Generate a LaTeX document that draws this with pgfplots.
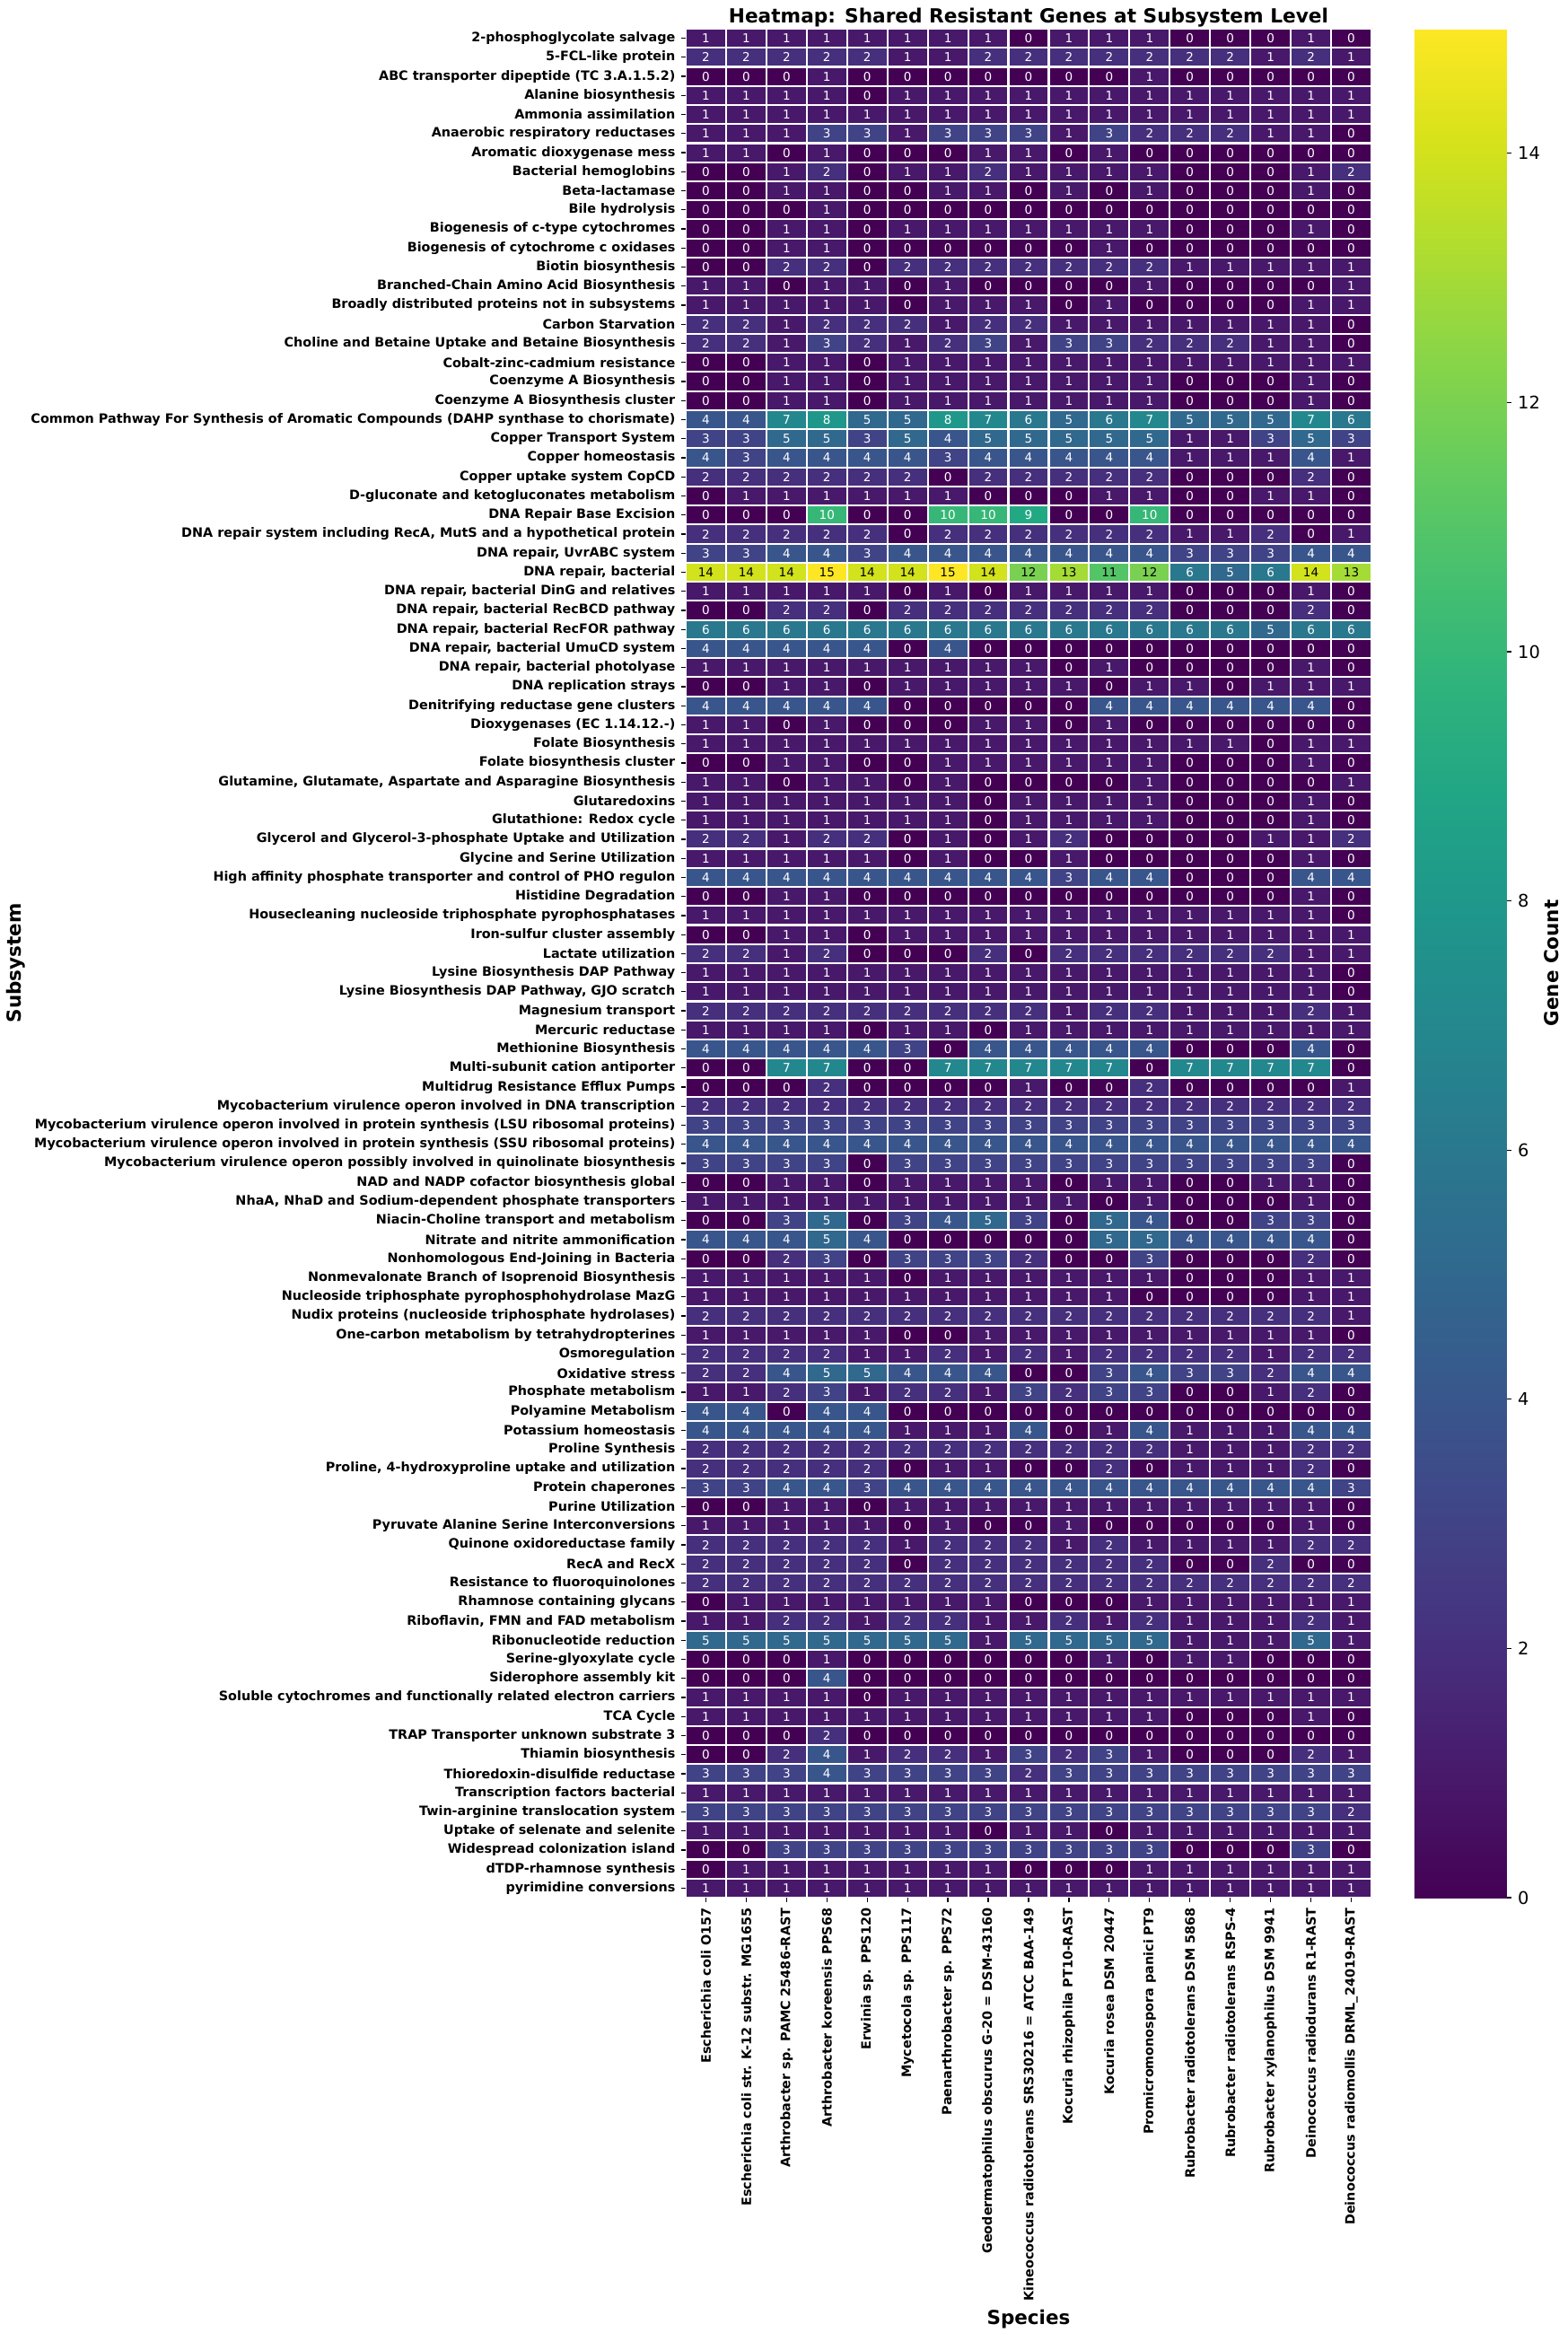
\documentclass[border=0pt]{standalone}
\usepackage{fontspec}
\setmainfont{DejaVu Sans}
\usepackage{pgfplots}
\usepackage{pgfplotstable}
\pgfplotsset{compat=1.18}
\usepgfplotslibrary{colormaps}
\pgfplotsset{/pgf/number format/assume math mode=true}

% values, row by row (subsystems top to bottom), 17 species per row
\pgfplotstableread[row sep=\\]{
v\\
1\\1\\1\\1\\1\\1\\1\\1\\0\\1\\1\\1\\0\\0\\0\\1\\0\\
2\\2\\2\\2\\2\\1\\1\\2\\2\\2\\2\\2\\2\\2\\1\\2\\1\\
0\\0\\0\\1\\0\\0\\0\\0\\0\\0\\0\\1\\0\\0\\0\\0\\0\\
1\\1\\1\\1\\0\\1\\1\\1\\1\\1\\1\\1\\1\\1\\1\\1\\1\\
1\\1\\1\\1\\1\\1\\1\\1\\1\\1\\1\\1\\1\\1\\1\\1\\1\\
1\\1\\1\\3\\3\\1\\3\\3\\3\\1\\3\\2\\2\\2\\1\\1\\0\\
1\\1\\0\\1\\0\\0\\0\\1\\1\\0\\1\\0\\0\\0\\0\\0\\0\\
0\\0\\1\\2\\0\\1\\1\\2\\1\\1\\1\\1\\0\\0\\0\\1\\2\\
0\\0\\1\\1\\0\\0\\1\\1\\0\\1\\0\\1\\0\\0\\0\\1\\0\\
0\\0\\0\\1\\0\\0\\0\\0\\0\\0\\0\\0\\0\\0\\0\\0\\0\\
0\\0\\1\\1\\0\\1\\1\\1\\1\\1\\1\\1\\0\\0\\0\\1\\0\\
0\\0\\1\\1\\0\\0\\0\\0\\0\\0\\1\\0\\0\\0\\0\\0\\0\\
0\\0\\2\\2\\0\\2\\2\\2\\2\\2\\2\\2\\1\\1\\1\\1\\1\\
1\\1\\0\\1\\1\\0\\1\\0\\0\\0\\0\\1\\0\\0\\0\\0\\1\\
1\\1\\1\\1\\1\\0\\1\\1\\1\\0\\1\\0\\0\\0\\0\\1\\1\\
2\\2\\1\\2\\2\\2\\1\\2\\2\\1\\1\\1\\1\\1\\1\\1\\0\\
2\\2\\1\\3\\2\\1\\2\\3\\1\\3\\3\\2\\2\\2\\1\\1\\0\\
0\\0\\1\\1\\0\\1\\1\\1\\1\\1\\1\\1\\1\\1\\1\\1\\1\\
0\\0\\1\\1\\0\\1\\1\\1\\1\\1\\1\\1\\0\\0\\0\\1\\0\\
0\\0\\1\\1\\0\\1\\1\\1\\1\\1\\1\\1\\0\\0\\0\\1\\0\\
4\\4\\7\\8\\5\\5\\8\\7\\6\\5\\6\\7\\5\\5\\5\\7\\6\\
3\\3\\5\\5\\3\\5\\4\\5\\5\\5\\5\\5\\1\\1\\3\\5\\3\\
4\\3\\4\\4\\4\\4\\3\\4\\4\\4\\4\\4\\1\\1\\1\\4\\1\\
2\\2\\2\\2\\2\\2\\0\\2\\2\\2\\2\\2\\0\\0\\0\\2\\0\\
0\\1\\1\\1\\1\\1\\1\\0\\0\\0\\1\\1\\0\\0\\1\\1\\0\\
0\\0\\0\\10\\0\\0\\10\\10\\9\\0\\0\\10\\0\\0\\0\\0\\0\\
2\\2\\2\\2\\2\\0\\2\\2\\2\\2\\2\\2\\1\\1\\2\\0\\1\\
3\\3\\4\\4\\3\\4\\4\\4\\4\\4\\4\\4\\3\\3\\3\\4\\4\\
14\\14\\14\\15\\14\\14\\15\\14\\12\\13\\11\\12\\6\\5\\6\\14\\13\\
1\\1\\1\\1\\1\\0\\1\\0\\1\\1\\1\\1\\0\\0\\0\\1\\0\\
0\\0\\2\\2\\0\\2\\2\\2\\2\\2\\2\\2\\0\\0\\0\\2\\0\\
6\\6\\6\\6\\6\\6\\6\\6\\6\\6\\6\\6\\6\\6\\5\\6\\6\\
4\\4\\4\\4\\4\\0\\4\\0\\0\\0\\0\\0\\0\\0\\0\\0\\0\\
1\\1\\1\\1\\1\\1\\1\\1\\1\\0\\1\\0\\0\\0\\0\\1\\0\\
0\\0\\1\\1\\0\\1\\1\\1\\1\\1\\0\\1\\1\\0\\1\\1\\1\\
4\\4\\4\\4\\4\\0\\0\\0\\0\\0\\4\\4\\4\\4\\4\\4\\0\\
1\\1\\0\\1\\0\\0\\0\\1\\1\\0\\1\\0\\0\\0\\0\\0\\0\\
1\\1\\1\\1\\1\\1\\1\\1\\1\\1\\1\\1\\1\\1\\0\\1\\1\\
0\\0\\1\\1\\0\\0\\1\\1\\1\\1\\1\\1\\0\\0\\0\\1\\0\\
1\\1\\0\\1\\1\\0\\1\\0\\0\\0\\0\\1\\0\\0\\0\\0\\1\\
1\\1\\1\\1\\1\\1\\1\\0\\1\\1\\1\\1\\0\\0\\0\\1\\0\\
1\\1\\1\\1\\1\\1\\1\\0\\1\\1\\1\\1\\0\\0\\0\\1\\0\\
2\\2\\1\\2\\2\\0\\1\\0\\1\\2\\0\\0\\0\\0\\1\\1\\2\\
1\\1\\1\\1\\1\\0\\1\\0\\0\\1\\0\\0\\0\\0\\0\\1\\0\\
4\\4\\4\\4\\4\\4\\4\\4\\4\\3\\4\\4\\0\\0\\0\\4\\4\\
0\\0\\1\\1\\0\\0\\0\\0\\0\\0\\0\\0\\0\\0\\0\\1\\0\\
1\\1\\1\\1\\1\\1\\1\\1\\1\\1\\1\\1\\1\\1\\1\\1\\0\\
0\\0\\1\\1\\0\\1\\1\\1\\1\\1\\1\\1\\1\\1\\1\\1\\1\\
2\\2\\1\\2\\0\\0\\0\\2\\0\\2\\2\\2\\2\\2\\2\\1\\1\\
1\\1\\1\\1\\1\\1\\1\\1\\1\\1\\1\\1\\1\\1\\1\\1\\0\\
1\\1\\1\\1\\1\\1\\1\\1\\1\\1\\1\\1\\1\\1\\1\\1\\0\\
2\\2\\2\\2\\2\\2\\2\\2\\2\\1\\2\\2\\1\\1\\1\\2\\1\\
1\\1\\1\\1\\0\\1\\1\\0\\1\\1\\1\\1\\1\\1\\1\\1\\1\\
4\\4\\4\\4\\4\\3\\0\\4\\4\\4\\4\\4\\0\\0\\0\\4\\0\\
0\\0\\7\\7\\0\\0\\7\\7\\7\\7\\7\\0\\7\\7\\7\\7\\0\\
0\\0\\0\\2\\0\\0\\0\\0\\1\\0\\0\\2\\0\\0\\0\\0\\1\\
2\\2\\2\\2\\2\\2\\2\\2\\2\\2\\2\\2\\2\\2\\2\\2\\2\\
3\\3\\3\\3\\3\\3\\3\\3\\3\\3\\3\\3\\3\\3\\3\\3\\3\\
4\\4\\4\\4\\4\\4\\4\\4\\4\\4\\4\\4\\4\\4\\4\\4\\4\\
3\\3\\3\\3\\0\\3\\3\\3\\3\\3\\3\\3\\3\\3\\3\\3\\0\\
0\\0\\1\\1\\0\\1\\1\\1\\1\\0\\1\\1\\0\\0\\1\\1\\0\\
1\\1\\1\\1\\1\\1\\1\\1\\1\\1\\0\\1\\0\\0\\0\\1\\0\\
0\\0\\3\\5\\0\\3\\4\\5\\3\\0\\5\\4\\0\\0\\3\\3\\0\\
4\\4\\4\\5\\4\\0\\0\\0\\0\\0\\5\\5\\4\\4\\4\\4\\0\\
0\\0\\2\\3\\0\\3\\3\\3\\2\\0\\0\\3\\0\\0\\0\\2\\0\\
1\\1\\1\\1\\1\\0\\1\\1\\1\\1\\1\\1\\0\\0\\0\\1\\1\\
1\\1\\1\\1\\1\\1\\1\\1\\1\\1\\1\\0\\0\\0\\0\\1\\1\\
2\\2\\2\\2\\2\\2\\2\\2\\2\\2\\2\\2\\2\\2\\2\\2\\1\\
1\\1\\1\\1\\1\\0\\0\\1\\1\\1\\1\\1\\1\\1\\1\\1\\0\\
2\\2\\2\\2\\1\\1\\2\\1\\2\\1\\2\\2\\2\\2\\1\\2\\2\\
2\\2\\4\\5\\5\\4\\4\\4\\0\\0\\3\\4\\3\\3\\2\\4\\4\\
1\\1\\2\\3\\1\\2\\2\\1\\3\\2\\3\\3\\0\\0\\1\\2\\0\\
4\\4\\0\\4\\4\\0\\0\\0\\0\\0\\0\\0\\0\\0\\0\\0\\0\\
4\\4\\4\\4\\4\\1\\1\\1\\4\\0\\1\\4\\1\\1\\1\\4\\4\\
2\\2\\2\\2\\2\\2\\2\\2\\2\\2\\2\\2\\1\\1\\1\\2\\2\\
2\\2\\2\\2\\2\\0\\1\\1\\0\\0\\2\\0\\1\\1\\1\\2\\0\\
3\\3\\4\\4\\3\\4\\4\\4\\4\\4\\4\\4\\4\\4\\4\\4\\3\\
0\\0\\1\\1\\0\\1\\1\\1\\1\\1\\1\\1\\1\\1\\1\\1\\0\\
1\\1\\1\\1\\1\\0\\1\\0\\0\\1\\0\\0\\0\\0\\0\\1\\0\\
2\\2\\2\\2\\2\\1\\2\\2\\2\\1\\2\\1\\1\\1\\1\\2\\2\\
2\\2\\2\\2\\2\\0\\2\\2\\2\\2\\2\\2\\0\\0\\2\\0\\0\\
2\\2\\2\\2\\2\\2\\2\\2\\2\\2\\2\\2\\2\\2\\2\\2\\2\\
0\\1\\1\\1\\1\\1\\1\\1\\0\\0\\0\\1\\1\\1\\1\\1\\1\\
1\\1\\2\\2\\1\\2\\2\\1\\1\\2\\1\\2\\1\\1\\1\\2\\1\\
5\\5\\5\\5\\5\\5\\5\\1\\5\\5\\5\\5\\1\\1\\1\\5\\1\\
0\\0\\0\\1\\0\\0\\0\\0\\0\\0\\1\\0\\1\\1\\0\\0\\0\\
0\\0\\0\\4\\0\\0\\0\\0\\0\\0\\0\\0\\0\\0\\0\\0\\0\\
1\\1\\1\\1\\0\\1\\1\\1\\1\\1\\1\\1\\1\\1\\1\\1\\1\\
1\\1\\1\\1\\1\\1\\1\\1\\1\\1\\1\\1\\0\\0\\0\\1\\0\\
0\\0\\0\\2\\0\\0\\0\\0\\0\\0\\0\\0\\0\\0\\0\\0\\0\\
0\\0\\2\\4\\1\\2\\2\\1\\3\\2\\3\\1\\0\\0\\0\\2\\1\\
3\\3\\3\\4\\3\\3\\3\\3\\2\\3\\3\\3\\3\\3\\3\\3\\3\\
1\\1\\1\\1\\1\\1\\1\\1\\1\\1\\1\\1\\1\\1\\1\\1\\1\\
3\\3\\3\\3\\3\\3\\3\\3\\3\\3\\3\\3\\3\\3\\3\\3\\2\\
1\\1\\1\\1\\1\\1\\1\\0\\1\\1\\0\\1\\1\\1\\1\\1\\1\\
0\\0\\3\\3\\3\\3\\3\\3\\3\\3\\3\\3\\0\\0\\0\\3\\0\\
0\\1\\1\\1\\1\\1\\1\\1\\0\\0\\0\\1\\1\\1\\1\\1\\1\\
1\\1\\1\\1\\1\\1\\1\\1\\1\\1\\1\\1\\1\\1\\1\\1\\1\\
}\heat

\begin{document}
\begin{tikzpicture}
\useasboundingbox (-366.72pt,-232.8pt) rectangle (471.36pt,1014.72pt);
\begin{axis}[
  scale only axis,
  width=366.72pt, height=999.36pt,
  xmin=-0.5, xmax=16.5, ymin=-0.5, ymax=97.5,
  enlargelimits=false,
  clip=false,
  axis on top,
  colormap name=viridis,
  point meta min=0, point meta max=15,
  axis line style={draw=none},
  tick pos=left,
  tick align=outside,
  major tick length=2.4pt,
  tick style={black, line width=0.6pt},
  xtick={0,...,16}, ytick={0,...,97},
  minor xtick={-0.5,0.5,...,16.5},
  minor ytick={-0.5,0.5,...,97.5},
  minor tick length=0pt,
  xminorgrids, yminorgrids,
  minor grid style={white, line width=1pt},
  xticklabels={{Escherichia coli O157},{Escherichia coli str. K-12 substr. MG1655},{Arthrobacter sp. PAMC 25486-RAST},{Arthrobacter koreensis PPS68},{Erwinia sp. PPS120},{Mycetocola sp. PPS117},{Paenarthrobacter sp. PPS72},{Geodermatophilus obscurus G-20 = DSM-43160},{Kineococcus radiotolerans SRS30216 = ATCC BAA-149},{Kocuria rhizophila PT10-RAST},{Kocuria rosea DSM 20447},{Promicromonospora panici PT9},{Rubrobacter radiotolerans DSM 5868},{Rubrobacter radiotolerans RSPS-4},{Rubrobacter xylanophilus DSM 9941},{Deinococcus radiodurans R1-RAST},{Deinococcus radiomollis DRML\_24019-RAST}},
  yticklabels={{pyrimidine conversions},{dTDP-rhamnose synthesis},{Widespread colonization island},{Uptake of selenate and selenite},{Twin-arginine translocation system},{Transcription factors bacterial},{Thioredoxin-disulfide reductase},{Thiamin biosynthesis},{TRAP Transporter unknown substrate 3},{TCA Cycle},{Soluble cytochromes and functionally related electron carriers},{Siderophore assembly kit},{Serine-glyoxylate cycle},{Ribonucleotide reduction},{Riboflavin, FMN and FAD metabolism},{Rhamnose containing glycans},{Resistance to fluoroquinolones},{RecA and RecX},{Quinone oxidoreductase family},{Pyruvate Alanine Serine Interconversions},{Purine Utilization},{Protein chaperones},{Proline, 4-hydroxyproline uptake and utilization},{Proline Synthesis},{Potassium homeostasis},{Polyamine Metabolism},{Phosphate metabolism},{Oxidative stress},{Osmoregulation},{One-carbon metabolism by tetrahydropterines},{Nudix proteins (nucleoside triphosphate hydrolases)},{Nucleoside triphosphate pyrophosphohydrolase MazG},{Nonmevalonate Branch of Isoprenoid Biosynthesis},{Nonhomologous End-Joining in Bacteria},{Nitrate and nitrite ammonification},{Niacin-Choline transport and metabolism},{NhaA, NhaD and Sodium-dependent phosphate transporters},{NAD and NADP cofactor biosynthesis global},{Mycobacterium virulence operon possibly involved in quinolinate biosynthesis},{Mycobacterium virulence operon involved in protein synthesis (SSU ribosomal proteins)},{Mycobacterium virulence operon involved in protein synthesis (LSU ribosomal proteins)},{Mycobacterium virulence operon involved in DNA transcription},{Multidrug Resistance Efflux Pumps},{Multi-subunit cation antiporter},{Methionine Biosynthesis},{Mercuric reductase},{Magnesium transport},{Lysine Biosynthesis DAP Pathway, GJO scratch},{Lysine Biosynthesis DAP Pathway},{Lactate utilization},{Iron-sulfur cluster assembly},{Housecleaning nucleoside triphosphate pyrophosphatases},{Histidine Degradation},{High affinity phosphate transporter and control of PHO regulon},{Glycine and Serine Utilization},{Glycerol and Glycerol-3-phosphate Uptake and Utilization},{Glutathione: Redox cycle},{Glutaredoxins},{Glutamine, Glutamate, Aspartate and Asparagine Biosynthesis},{Folate biosynthesis cluster},{Folate Biosynthesis},{Dioxygenases (EC 1.14.12.-)},{Denitrifying reductase gene clusters},{DNA replication strays},{DNA repair, bacterial photolyase},{DNA repair, bacterial UmuCD system},{DNA repair, bacterial RecFOR pathway},{DNA repair, bacterial RecBCD pathway},{DNA repair, bacterial DinG and relatives},{DNA repair, bacterial},{DNA repair, UvrABC system},{DNA repair system including RecA, MutS and a hypothetical protein},{DNA Repair Base Excision},{D-gluconate and ketogluconates metabolism},{Copper uptake system CopCD},{Copper homeostasis},{Copper Transport System},{Common Pathway For Synthesis of Aromatic Compounds (DAHP synthase to chorismate)},{Coenzyme A Biosynthesis cluster},{Coenzyme A Biosynthesis},{Cobalt-zinc-cadmium resistance},{Choline and Betaine Uptake and Betaine Biosynthesis},{Carbon Starvation},{Broadly distributed proteins not in subsystems},{Branched-Chain Amino Acid Biosynthesis},{Biotin biosynthesis},{Biogenesis of cytochrome c oxidases},{Biogenesis of c-type cytochromes},{Bile hydrolysis},{Beta-lactamase},{Bacterial hemoglobins},{Aromatic dioxygenase mess},{Anaerobic respiratory reductases},{Ammonia assimilation},{Alanine biosynthesis},{ABC transporter dipeptide (TC 3.A.1.5.2)},{5-FCL-like protein},{2-phosphoglycolate salvage}},
  xticklabel style={font=\fontsize{6.9}{8}\selectfont\bfseries, rotate=90, anchor=east, inner sep=3pt},
  yticklabel style={font=\fontsize{6.9}{8}\selectfont\bfseries, anchor=east, inner sep=3pt},
  xlabel={Species},
  xlabel style={font=\fontsize{10.3}{12}\selectfont\bfseries, at={(axis description cs:0.5,-0.22863)}, anchor=base},
  ylabel={Subsystem},
  ylabel style={font=\fontsize{10.3}{12}\selectfont\bfseries, at={(axis description cs:-0.96859,0.5)}, anchor=base},
  colorbar,
  colorbar/width=49.4pt,
  colorbar shift/.style={xshift=23pt},
  colorbar style={
    at={(parent axis.north east)}, anchor=north west,
    scale only axis, width=49.4pt, height=999.36pt,
    axis line style={draw=none},
    ytick={0,2,...,14},
    ytick pos=right, yticklabel pos=right,
    tick align=outside, major tick length=2.4pt,
    tick style={black, line width=0.6pt},
    yticklabel style={font=\fontsize{9.3}{11}\selectfont},
    ylabel={Gene Count},
    ylabel style={font=\fontsize{10.3}{12}\selectfont\bfseries, at={(axis description cs:1.485,0.5)}, anchor=center},
  },
]
\addplot[matrix plot*, mesh/cols=17, point meta=explicit]
  table[x index=0, y index=0, x expr={mod(\coordindex,17)}, y expr={97-floor((\coordindex+0.5)/17)}, meta=v] {\heat};
\addplot[draw=none, mark=none, point meta=explicit,
  restrict expr to domain={\thisrow{v}}{-1:10.5},
  nodes near coords,
  every node near coord/.append style={font=\fontsize{6.5}{7}\selectfont, text=white, anchor=center, inner sep=0pt},
] table[x index=0, y index=0, x expr={mod(\coordindex,17)}, y expr={97-floor((\coordindex+0.5)/17)}, meta=v] {\heat};
\addplot[draw=none, mark=none, point meta=explicit,
  restrict expr to domain={\thisrow{v}}{10.5:20},
  nodes near coords,
  every node near coord/.append style={font=\fontsize{6.5}{7}\selectfont, text=black, anchor=center, inner sep=0pt},
] table[x index=0, y index=0, x expr={mod(\coordindex,17)}, y expr={97-floor((\coordindex+0.5)/17)}, meta=v] {\heat};
\node[font=\fontsize{10.4}{12}\selectfont\bfseries, anchor=base, inner sep=0pt]
  at (axis description cs:0.5,1.00336) {Heatmap: Shared Resistant Genes at Subsystem Level};
\end{axis}
\end{tikzpicture}
\end{document}
